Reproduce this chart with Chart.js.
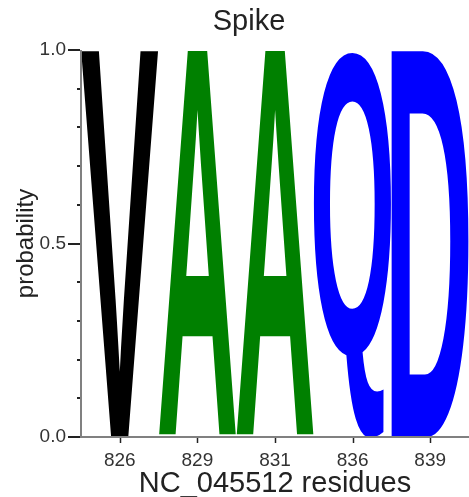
<!DOCTYPE html>
<html>
<head>
<meta charset="utf-8">
<script src="https://cdn.jsdelivr.net/npm/chart.js@4"></script>
<style>
  html, body { margin: 0; padding: 0; background: #fff; }
  #wrap { width: 469px; height: 497px; }
</style>
</head>
<body>
<div id="wrap"><canvas id="logo"></canvas></div>
<script>
const positions = ['826', '829', '831', '836', '839'];
const residues = ['V', 'A', 'A', 'Q', 'D'];
const probabilities = [1.0, 1.0, 1.0, 1.0, 1.0];
const residueColors = ['#000000', '#008000', '#008000', '#0000ff', '#0000ff'];
const yMajorTicks = [0, 0.5, 1.0];
const chartTitle = 'Spike';

const FONT = '"Liberation Sans", Arial, sans-serif';

// draws each residue stretched to fill its bar
const letterPlugin = {
    id: 'letters',
    afterDatasetsDraw(chart) {
        const ctx = chart.ctx;
        const meta = chart.getDatasetMeta(0);
        const area = chart.chartArea;
        ctx.save();
        ctx.beginPath();
        ctx.rect(area.left, area.top - 1, area.right - area.left, area.bottom - area.top + 1);
        ctx.clip();
        meta.data.forEach((bar, i) => {
            const p = bar.getProps(['x', 'y', 'base', 'width'], true);
            const left = p.x - p.width / 2;
            const top = Math.min(p.y, p.base);
            const h = Math.abs(p.base - p.y);
            ctx.font = 'bold 200px ' + FONT;
            ctx.textBaseline = 'alphabetic';
            ctx.textAlign = 'left';
            const m = ctx.measureText(residues[i]);
            const gw = m.actualBoundingBoxLeft + m.actualBoundingBoxRight;
            const gh = m.actualBoundingBoxAscent + m.actualBoundingBoxDescent;
            ctx.save();
            ctx.translate(left, top);
            ctx.scale(p.width / gw, h / gh);
            ctx.fillStyle = residueColors[i];
            ctx.fillText(residues[i], m.actualBoundingBoxLeft, m.actualBoundingBoxAscent);
            ctx.restore();
        });
        ctx.restore();
    }
};

// axis lines, major/minor tick marks and the title
const axisPlugin = {
    id: 'axesTicks',
    afterDraw(chart) {
        const ctx = chart.ctx;
        const xs = chart.scales.x, ys = chart.scales.y;
        const a = chart.chartArea;
        ctx.save();
        ctx.strokeStyle = '#808080';
        ctx.lineWidth = 2;
        ctx.beginPath();
        ctx.moveTo(a.left, a.top);
        ctx.lineTo(a.left, a.bottom);
        ctx.lineTo(a.right, a.bottom);
        ctx.stroke();
        ctx.strokeStyle = '#222';
        ctx.lineWidth = 2;
        for (let k = 0; k <= 10; k++) {
            const v = k / 10;
            const y = Math.round(ys.getPixelForValue(v));
            const major = yMajorTicks.some(t => Math.abs(t - v) < 1e-9);
            ctx.beginPath();
            ctx.moveTo(a.left - (major ? 13 : 4), y);
            ctx.lineTo(a.left - 1, y);
            ctx.stroke();
        }
        ctx.lineWidth = 1.5;
        positions.forEach((_, i) => {
            const x = Math.round(xs.getPixelForValue(i)) + 0.5;
            ctx.beginPath();
            ctx.moveTo(x, a.bottom + 1);
            ctx.lineTo(x, a.bottom + 6);
            ctx.stroke();
        });
        // title
        ctx.fillStyle = '#222';
        ctx.font = '29px ' + FONT;
        ctx.textAlign = 'center';
        ctx.textBaseline = 'alphabetic';
        ctx.fillText(chartTitle, 249, 30);
        ctx.restore();
    }
};

new Chart(document.getElementById('logo'), {
    type: 'bar',
    data: {
        labels: positions,
        datasets: [{
            label: 'probability',
            data: probabilities,
            backgroundColor: 'rgba(0,0,0,0)',
            barPercentage: 1.0,
            categoryPercentage: 1.0
        }]
    },
    options: {
        responsive: true,
        maintainAspectRatio: false,
        animation: false,
        layout: { padding: { top: 50, right: 0, left: 0, bottom: 0 } },
        plugins: {
            legend: { display: false },
            tooltip: { enabled: false },
            title: { display: false }
        },
        scales: {
            x: {
                grid: { display: false, drawTicks: false },
                border: { display: false },
                ticks: {
                    color: '#333',
                    font: { family: FONT, size: 19 },
                    padding: 12,
                    maxRotation: 0
                },
                title: {
                    display: true,
                    text: 'NC_045512 residues',
                    color: '#222',
                    font: { family: FONT, size: 29, lineHeight: 1 },
                    padding: { top: 0, bottom: -1 }
                },
                afterFit(scale) { scale.height = 60; }
            },
            y: {
                min: 0,
                max: 1,
                grid: { display: false, drawTicks: false },
                border: { display: false },
                afterBuildTicks(scale) {
                    scale.ticks = yMajorTicks.map(v => ({ value: v }));
                },
                ticks: {
                    color: '#333',
                    font: { family: FONT, size: 19 },
                    padding: 15,
                    callback: v => v.toFixed(1)
                },
                title: {
                    display: true,
                    text: 'probability',
                    color: '#222',
                    font: { family: FONT, size: 24, lineHeight: 1 },
                    padding: { top: 14, bottom: 0 }
                },
                afterFit(scale) { scale.width = 81; }
            }
        }
    },
    plugins: [letterPlugin, axisPlugin]
});
</script>
</body>
</html>
